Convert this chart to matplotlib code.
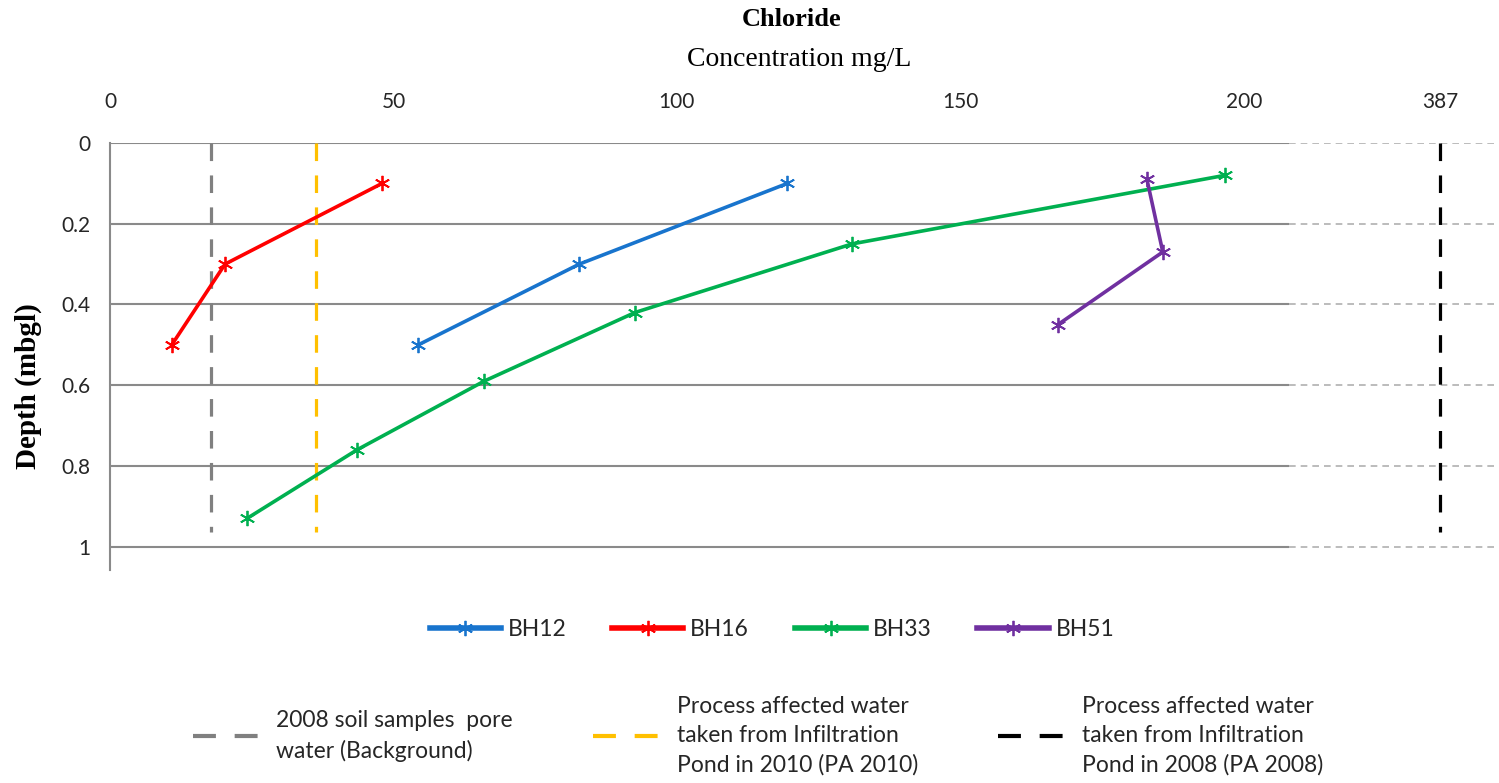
import matplotlib
matplotlib.use("Agg")
import matplotlib.pyplot as plt
from matplotlib.lines import Line2D
import numpy as np

# data (concentration mg/L vs depth m)
bh12_conc = [119.5, 82.8, 54.4]
bh12_depth = [0.1, 0.3, 0.5]
bh16_conc = [48.0, 20.3, 10.9]
bh16_depth = [0.1, 0.3, 0.5]
bh33_conc = [196.7, 130.9, 92.6, 66.0, 43.6, 24.2]
bh33_depth = [0.08, 0.25, 0.42, 0.59, 0.76, 0.93]
bh51_conc = [182.9, 185.7, 167.2]
bh51_depth = [0.09, 0.27, 0.45]

background = 17.8   # 2008 pore water
pa2010 = 36.3
pa2008 = 387
ref_depth = [0, 0.965]

x_ticks = [0, 50, 100, 150, 200, 387]
y_ticks = [0, 0.2, 0.4, 0.6, 0.8, 1.0]
y_labels = ["0", "0.2", "0.4", "0.6", "0.8", "1"]

# broken x axis: linear up to BREAK, compressed beyond
BREAK = 208
K = 0.1486
X_MAX = 457


def fwd(x):
    x = np.asarray(x, dtype=float)
    return np.where(x <= BREAK, x, BREAK + (x - BREAK) * K)


def inv(u):
    u = np.asarray(u, dtype=float)
    return np.where(u <= BREAK, u, BREAK + (u - BREAK) / K)


sans = ["Lato", "DejaVu Sans"]
serif = ["Liberation Serif", "DejaVu Serif"]
tick_col = "#262626"
grid_col = "#8a8a8a"

fig = plt.figure(figsize=(14.99, 7.83), dpi=100)
ax = fig.add_axes([110 / 1499, 1 - 570 / 783, 1389 / 1499, (570 - 143) / 783])
ax.set_xscale("function", functions=(fwd, inv))
ax.set_xlim(0, X_MAX)
ax.set_ylim(1.058, 0)

# grid: solid in the real part, dashed in the broken part
ax.hlines(y_ticks, 0, BREAK, colors=grid_col, linewidth=1.5, zorder=1)
ax.hlines(y_ticks, BREAK, X_MAX, colors="#b0b0b0", linewidth=1.2,
          linestyles=(0, (4, 3)), zorder=1)

ref_style = dict(linewidth=2.3, dashes=(5.5, 4.5), zorder=2)
ax.plot([background] * 2, ref_depth, color="#808080", **ref_style)
ax.plot([pa2010] * 2, ref_depth, color="#FFC000", **ref_style)
ax.plot([pa2008] * 2, ref_depth, color="black", **ref_style)

mk = dict(marker=(6, 2, 0), markersize=11, markeredgewidth=1.3, linewidth=2.6, zorder=3)
ax.plot(bh12_conc, bh12_depth, color="#1874CD", **mk)
ax.plot(bh16_conc, bh16_depth, color="#FF0000", **mk)
ax.plot(bh33_conc, bh33_depth, color="#00B050", **mk)
ax.plot(bh51_conc, bh51_depth, color="#7030A0", **mk)

for side in ["top", "right", "bottom"]:
    ax.spines[side].set_visible(False)
ax.spines["left"].set_color(grid_col)
ax.spines["left"].set_linewidth(1.5)

ax.xaxis.tick_top()
ax.set_xticks(x_ticks)
ax.set_xticklabels([str(t) for t in x_ticks])
ax.set_yticks(y_ticks)
ax.set_yticklabels(y_labels)
ax.tick_params(axis="x", length=0, pad=22, labelsize=15, labelcolor=tick_col)
ax.tick_params(axis="y", length=0, pad=14, labelsize=15, labelcolor=tick_col)
for lab in ax.get_xticklabels() + ax.get_yticklabels():
    lab.set_family(sans)

fig.text(792 / 1499, 1 - 20 / 783, "Chloride", ha="center", va="center",
         family=serif, fontsize=19, fontweight="bold")
fig.text(799 / 1499, 1 - 60 / 783, "Concentration mg/L", ha="center", va="center",
         family=serif, fontsize=20)
fig.text(28 / 1499, 1 - 386 / 783, "Depth (mbgl)", ha="center", va="center",
         rotation=90, family=serif, fontsize=21, fontweight="bold")

# legend for the boreholes
series_handles = [
    Line2D([], [], color=c, marker=(6, 2, 0), markersize=11, markeredgewidth=1.3, linewidth=4)
    for c in ["#1874CD", "#FF0000", "#00B050", "#7030A0"]
]
leg1 = fig.legend(series_handles, ["BH12", "BH16", "BH33", "BH51"], loc="center",
                  bbox_to_anchor=(772 / 1499, 1 - 630 / 783), ncol=4, frameon=False,
                  handlelength=3.1, handletextpad=0.3, columnspacing=2.0,
                  prop={"family": sans, "size": 16.5})
for t in leg1.get_texts():
    t.set_color(tick_col)

# legend for the reference lines
ref_handles = [
    Line2D([], [], color=c, linewidth=3, dashes=(5.5, 4.5), solid_capstyle="round")
    for c in ["#808080", "#FFC000", "black"]
]
ref_labels = [
    "2008 soil samples  pore\nwater (Background)",
    "Process affected water\ntaken from Infiltration\nPond in 2010 (PA 2010)",
    "Process affected water\ntaken from Infiltration\nPond in 2008 (PA 2008)",
]
leg2 = fig.legend(ref_handles, ref_labels, loc="center",
                  bbox_to_anchor=(758 / 1499, 1 - 736 / 783), ncol=3, frameon=False,
                  handlelength=2.9, handletextpad=0.75, columnspacing=3.5,
                  prop={"family": sans, "size": 16.5})
for t in leg2.get_texts():
    t.set_color(tick_col)
    t.set_linespacing(1.45)

fig.savefig("out.png", dpi=100)
